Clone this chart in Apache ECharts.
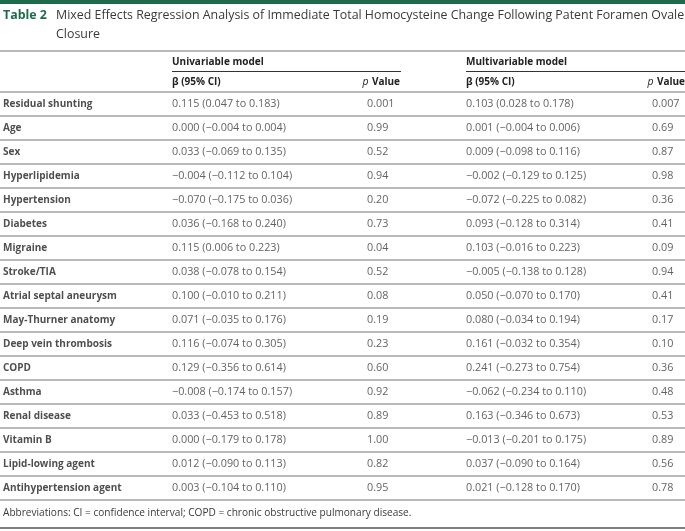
<!DOCTYPE html>
<html>
<head>
<meta charset="utf-8">
<script src="https://cdn.jsdelivr.net/npm/echarts@6/dist/echarts.min.js"></script>
<style>
html,body{margin:0;padding:0;background:#fff;}
#chart{width:685px;height:531px;}
</style>
</head>
<body>
<div id="chart"></div>
<script>
// ---- data ----
const tableTitle = 'Table 2';
const tableCaption = 'Mixed Effects Regression Analysis of Immediate Total Homocysteine Change Following Patent Foramen Ovale';
const tableCaption2 = 'Closure';
const groupHeaders = ['Univariable model', 'Multivariable model'];
const colHeaders = ['β (95% CI)', 'Value'];
const footnote = 'Abbreviations: CI = confidence interval; COPD = chronic obstructive pulmonary disease.';

const rowLabels = ['Residual shunting','Age','Sex','Hyperlipidemia','Hypertension','Diabetes','Migraine','Stroke/TIA','Atrial septal aneurysm','May-Thurner anatomy','Deep vein thrombosis','COPD','Asthma','Renal disease','Vitamin B','Lipid-lowing agent','Antihypertension agent'];
const uniBeta = ['0.115 (0.047 to 0.183)','0.000 (−0.004 to 0.004)','0.033 (−0.069 to 0.135)','−0.004 (−0.112 to 0.104)','−0.070 (−0.175 to 0.036)','0.036 (−0.168 to 0.240)','0.115 (0.006 to 0.223)','0.038 (−0.078 to 0.154)','0.100 (−0.010 to 0.211)','0.071 (−0.035 to 0.176)','0.116 (−0.074 to 0.305)','0.129 (−0.356 to 0.614)','−0.008 (−0.174 to 0.157)','0.033 (−0.453 to 0.518)','0.000 (−0.179 to 0.178)','0.012 (−0.090 to 0.113)','0.003 (−0.104 to 0.110)'];
const uniP = ['0.001','0.99','0.52','0.94','0.20','0.73','0.04','0.52','0.08','0.19','0.23','0.60','0.92','0.89','1.00','0.82','0.95'];
const multiBeta = ['0.103 (0.028 to 0.178)','0.001 (−0.004 to 0.006)','0.009 (−0.098 to 0.116)','−0.002 (−0.129 to 0.125)','−0.072 (−0.225 to 0.082)','0.093 (−0.128 to 0.314)','0.103 (−0.016 to 0.223)','−0.005 (−0.138 to 0.128)','0.050 (−0.070 to 0.170)','0.080 (−0.034 to 0.194)','0.161 (−0.032 to 0.354)','0.241 (−0.273 to 0.754)','−0.062 (−0.234 to 0.110)','0.163 (−0.346 to 0.673)','−0.013 (−0.201 to 0.175)','0.037 (−0.090 to 0.164)','0.021 (−0.128 to 0.170)'];
const multiP = ['0.007','0.69','0.87','0.98','0.36','0.41','0.09','0.94','0.41','0.17','0.10','0.36','0.48','0.53','0.89','0.56','0.78'];

// ---- layout (not data) ----
const W = 685;
const colX = {label: 3, b1: 172, p1: 367, b2: 466, p2: 652};
const gridTop = 92, rowH = 24;
const gridBottomY = gridTop + rowH * rowLabels.length;
const FONT = "'Open Sans', 'Noto Sans', sans-serif";
const textColor = '#3a3a3a';
const green = '#1d6b4b';
const ruleColor = '#a0a0a0';
const BODY = 10.8, LABEL = 10, TITLE = 12.4;

const chart = echarts.init(document.getElementById('chart'), null, {renderer: 'canvas'});

function colSeries(x, texts, bold) {
  return {
    type: 'scatter',
    symbolSize: 0,
    silent: true,
    data: rowLabels.map((r) => [x, r]),
    label: {
      show: true,
      position: 'right',
      distance: 0,
      formatter: (p) => texts[p.dataIndex],
      fontFamily: FONT,
      fontSize: bold ? LABEL : BODY,
      fontWeight: bold ? 'bold' : 'normal',
      color: bold ? '#222' : textColor,
      verticalAlign: 'middle'
    }
  };
}

const hdr = {fontFamily: FONT, fontSize: LABEL, fontWeight: 'bold', fill: '#222', verticalAlign: 'middle'};
const pRich = {i: {fontFamily: FONT, fontSize: LABEL + 0.5, fontStyle: 'italic', fill: '#222'}, b: {fontFamily: FONT, fontSize: LABEL, fontWeight: 'bold', fill: '#222'}};

const option = {
  animation: false,
  backgroundColor: '#fff',
  grid: {left: 0, right: 0, top: gridTop, height: rowH * rowLabels.length},
  xAxis: {type: 'value', min: 0, max: W, show: false},
  yAxis: {
    type: 'category', data: rowLabels, inverse: true,
    axisLine: {show: false}, axisTick: {show: false}, axisLabel: {show: false},
    splitLine: {show: true, lineStyle: {color: ruleColor, width: 1.5}}
  },
  series: [
    colSeries(colX.label, rowLabels, true),
    colSeries(colX.b1, uniBeta, false),
    colSeries(colX.p1, uniP, false),
    colSeries(colX.b2, multiBeta, false),
    colSeries(colX.p2, multiP, false)
  ],
  graphic: [
    {type: 'rect', shape: {x: 0, y: 0, width: W, height: 4}, style: {fill: green}},
    {type: 'text', x: 3, y: 15, style: {text: tableTitle, fontFamily: FONT, fontSize: TITLE, fontWeight: 'bold', fill: green, verticalAlign: 'middle'}},
    {type: 'text', x: 56, y: 15, style: {text: tableCaption, fontFamily: FONT, fontSize: TITLE, fill: textColor, verticalAlign: 'middle'}},
    {type: 'text', x: 56, y: 34, style: {text: tableCaption2, fontFamily: FONT, fontSize: TITLE, fill: textColor, verticalAlign: 'middle'}},
    {type: 'line', shape: {x1: 0, y1: 51, x2: W, y2: 51}, style: {stroke: ruleColor, lineWidth: 1.5}},
    {type: 'text', x: colX.b1, y: 62, style: Object.assign({text: groupHeaders[0]}, hdr)},
    {type: 'text', x: colX.b2, y: 62, style: Object.assign({text: groupHeaders[1]}, hdr)},
    {type: 'line', shape: {x1: colX.b1, y1: 71.5, x2: 401, y2: 71.5}, style: {stroke: '#333', lineWidth: 1}},
    {type: 'line', shape: {x1: colX.b2, y1: 71.5, x2: W, y2: 71.5}, style: {stroke: '#333', lineWidth: 1}},
    {type: 'text', x: colX.b1, y: 82, style: Object.assign({text: colHeaders[0]}, hdr)},
    {type: 'text', x: colX.b2, y: 82, style: Object.assign({text: colHeaders[0]}, hdr)},
    {type: 'text', x: 400, y: 82, style: {text: '{i|p} {b|' + colHeaders[1] + '}', align: 'right', verticalAlign: 'middle', rich: pRich}},
    {type: 'text', x: W, y: 82, style: {text: '{i|p} {b|' + colHeaders[1] + '}', align: 'right', verticalAlign: 'middle', rich: pRich}},
    {type: 'text', x: 3, y: gridBottomY + 13, style: {text: footnote, fontFamily: FONT, fontSize: 10.1, fill: textColor, verticalAlign: 'middle'}},
    {type: 'line', shape: {x1: 0, y1: gridBottomY + 28, x2: W, y2: gridBottomY + 28}, style: {stroke: '#555', lineWidth: 1.5}}
  ]
};
chart.setOption(option);
</script>
</body>
</html>
